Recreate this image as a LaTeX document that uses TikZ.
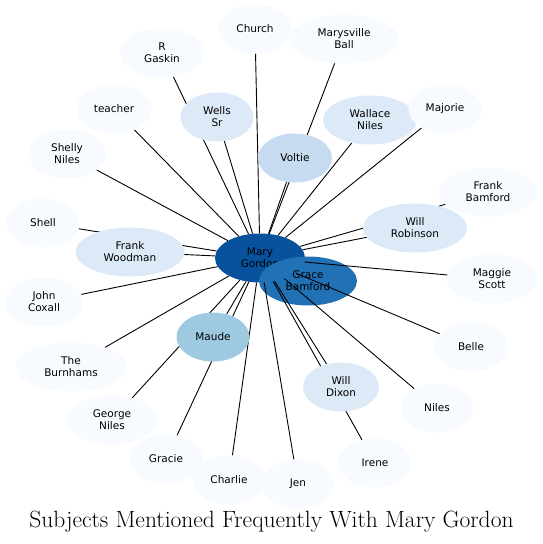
\documentclass[tikz,border=0pt]{standalone}
\usepackage{fontspec}
\setsansfont{DejaVu Sans}
\usetikzlibrary{shapes.geometric}
\definecolor{blpale}{RGB}{247,251,255}
\definecolor{bllight}{RGB}{220,233,246}
\definecolor{blsoft}{RGB}{198,219,239}
\definecolor{blmid}{RGB}{158,202,225}
\definecolor{blstrong}{RGB}{33,113,181}
\definecolor{bldeep}{RGB}{8,81,156}
\pgfdeclarelayer{hub}
\pgfdeclarelayer{links}
\pgfsetlayers{hub,links,main}

\begin{document}
\begin{tikzpicture}[x=1pt, y=-1pt,
    subj/.style={ellipse, inner sep=0pt, minimum width=73pt, minimum height=49pt,
                 align=center, fill=blpale,
                 font=\sffamily\fontsize{10.5}{12}\selectfont},
    link/.style={line width=0.9pt, black}
  ]
    \useasboundingbox (0,0) rectangle (543,544);

    % Central subject and the one overlapping it
    \begin{pgfonlayer}{hub}
      \node[subj, fill=bldeep, minimum width=90pt]   (mary)  at (260,258) {Mary\\Gordon};
      \node[subj, fill=blstrong, minimum width=98pt] (grace) at (308,281) {Grace\\Bamford};
    \end{pgfonlayer}

    % Upper half
    \node[subj]                                 (church)     at (255,29)  {Church};
    \node[subj, minimum width=108pt]            (marysville) at (344,39)  {Marysville\\Ball};
    \node[subj, minimum width=84pt]             (rgaskin)    at (162,53)  {R\\Gaskin};
    \node[subj, minimum width=75pt]             (teacher)    at (114,109) {teacher};
    \node[subj, fill=bllight]                   (wells)      at (217,117) {Wells\\Sr};
    \node[subj, minimum width=78pt]             (shelly)     at (67,154)  {Shelly\\Niles};
    \node[subj, fill=blsoft, minimum width=74pt] (voltie)    at (295,158) {Voltie};
    \node[subj, fill=bllight, minimum width=94pt] (wallace)  at (370,120) {Wallace\\Niles};
    \node[subj]                                 (majorie)    at (445,109) {Majorie};
    \node[subj, minimum width=98pt]             (frankb)     at (488,192) {Frank\\Bamford};
    \node[subj]                                 (shell)      at (43,223)  {Shell};
    \node[subj, fill=bllight, minimum width=109pt] (frankw)  at (130,252) {Frank\\Woodman};
    \node[subj, fill=bllight, minimum width=104pt] (willr)   at (415,228) {Will\\Robinson};
    \node[subj, minimum width=90pt]             (maggie)     at (492,279) {Maggie\\Scott};

    % Lower half
    \node[subj, minimum width=78pt]             (john)       at (44,302)  {John\\Coxall};
    \node[subj, minimum width=111pt]            (burnhams)   at (71,367)  {The\\Burnhams};
    \node[subj, fill=blmid]                     (maude)      at (213,337) {Maude};
    \node[subj, minimum width=90pt]             (george)     at (112,420) {George\\Niles};
    \node[subj]                                 (gracie)     at (166,459) {Gracie};
    \node[subj]                                 (charlie)    at (229,480) {Charlie};
    \node[subj, minimum width=72pt]             (jen)        at (298,484) {Jen};
    \node[subj, minimum width=74pt]             (belle)      at (471,347) {Belle};
    \node[subj, fill=bllight, minimum width=76pt] (willd)    at (341,387) {Will\\Dixon};
    \node[subj]                                 (niles)      at (437,408) {Niles};
    \node[subj]                                 (irene)      at (375,463) {Irene};

    % Links from Mary Gordon
    \begin{pgfonlayer}{links}
      \foreach \other in {church,marysville,rgaskin,teacher,wells,shelly,voltie,
                          wallace,majorie,frankb,shell,frankw,willr,maggie,john,
                          burnhams,maude,george,gracie,charlie,jen,belle,willd,
                          niles,irene}
        \draw[link] (mary) -- (\other);
    \end{pgfonlayer}

    % Title
    \node[anchor=base, font=\fontsize{23.5}{28}\selectfont] (title) at (271.5,527)
      {Subjects Mentioned Frequently With Mary Gordon};
  \end{tikzpicture}
\end{document}
